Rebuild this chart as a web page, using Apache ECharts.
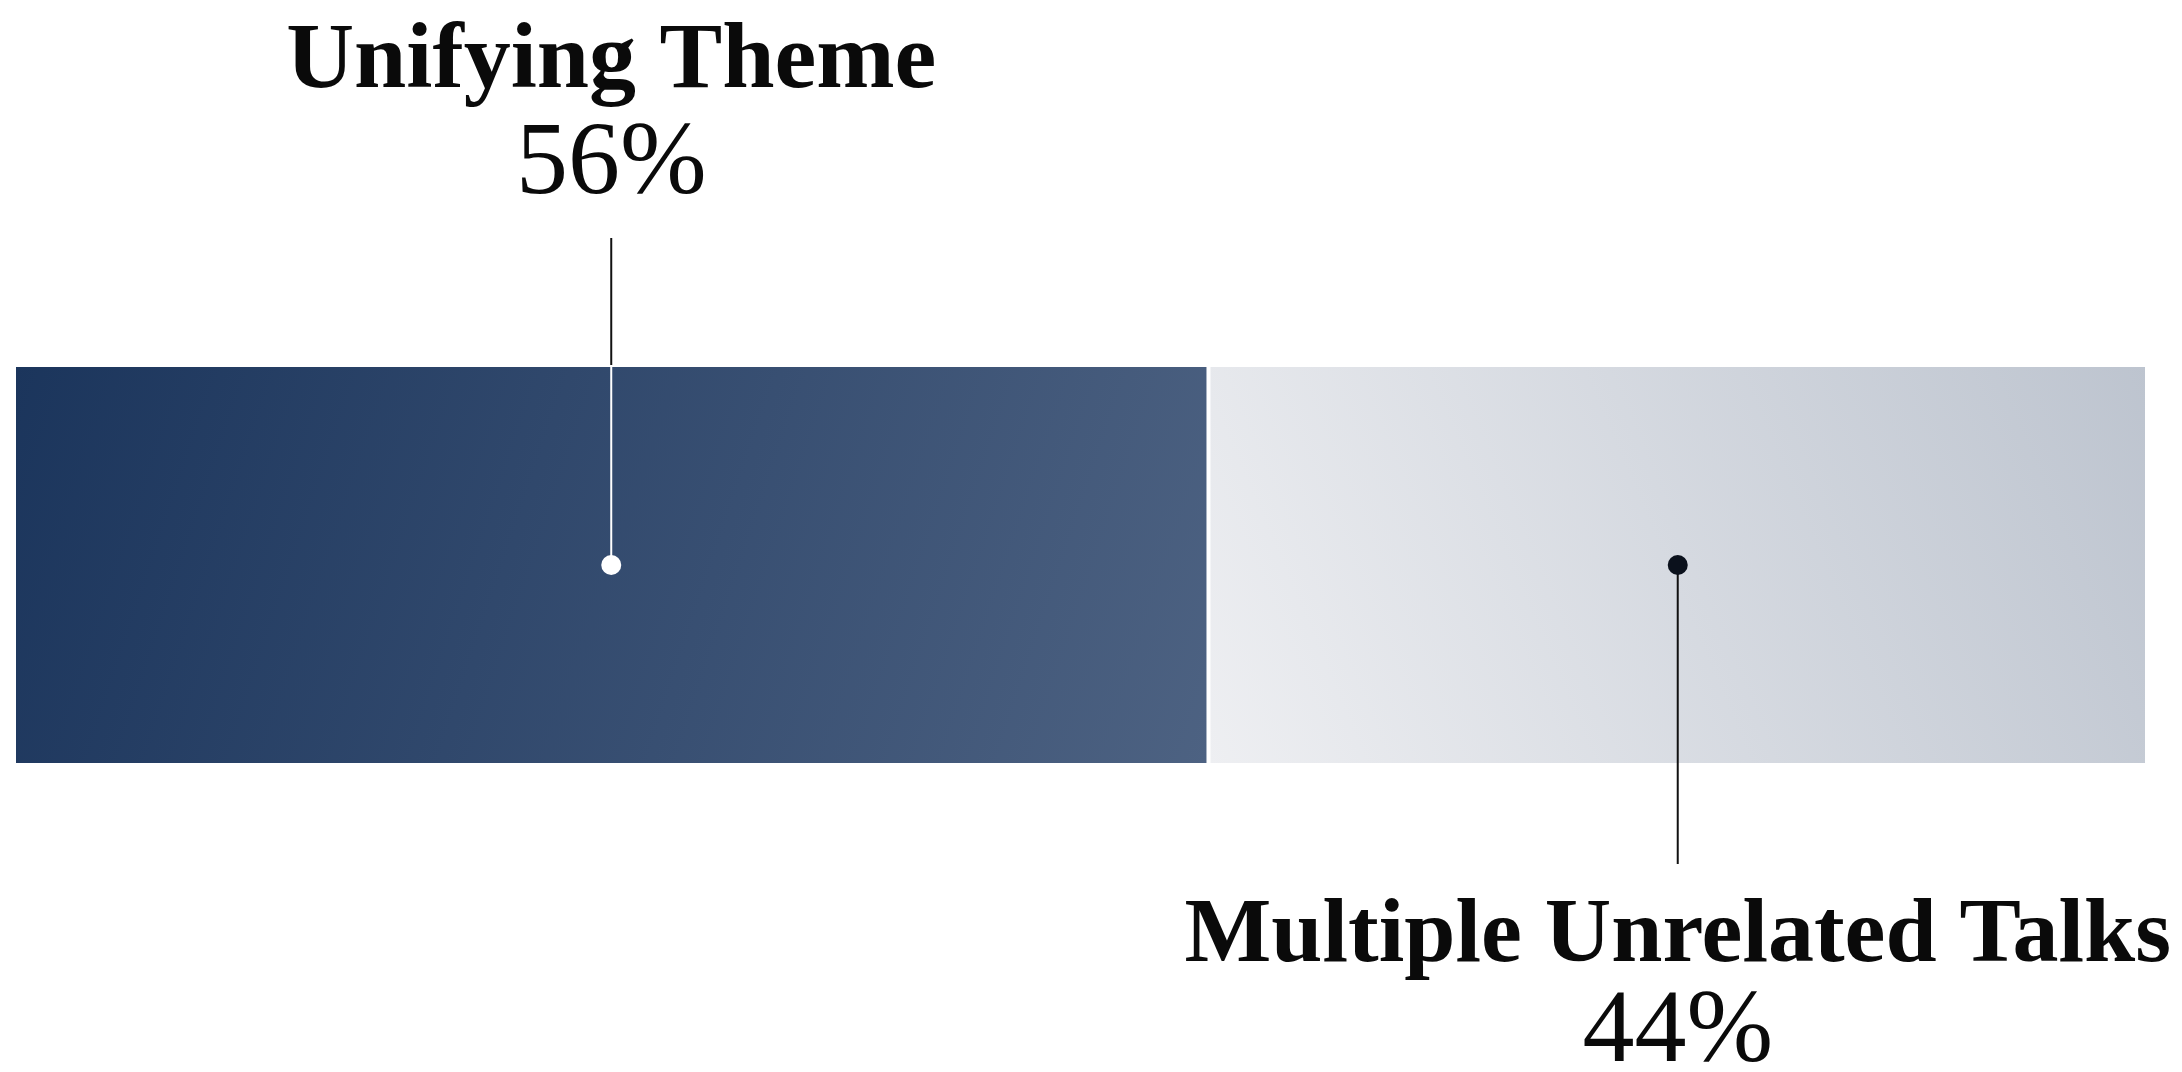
<!DOCTYPE html>
<html>
<head>
<meta charset="utf-8">
<script src="https://cdn.jsdelivr.net/npm/echarts@6/dist/echarts.min.js"></script>
<style>
    html, body { margin: 0; padding: 0; background: #fff; }
    #chart { width: 2182px; height: 1072px; }
</style>
</head>
<body>
<div id="chart"></div>
<script>
    // data
    var categories = ['Talks'];
    var segmentNames = ['Unifying Theme', 'Multiple Unrelated Talks'];
    var segmentValues = [56, 44];
    var valueLabels = ['56%', '44%'];

    var chart = echarts.init(document.getElementById('chart'));

    var gridTop = 365, gridBottom = 307;
    var fontFamily = '"Liberation Serif", "DejaVu Serif", serif';

    // midpoint of each segment, where the marker dot sits
    var midPoints = [];
    var acc = 0;
    segmentValues.forEach(function (v) {
        midPoints.push(acc + v / 2);
        acc += v;
    });

    var gradients = [
        new echarts.graphic.LinearGradient(0, 0, 1, 1, [
            { offset: 0, color: '#1b355c' },
            { offset: 1, color: '#4d6282' }
        ]),
        new echarts.graphic.LinearGradient(0, 1, 1, 0, [
            { offset: 0, color: '#eeeff2' },
            { offset: 1, color: '#bdc4cf' }
        ])
    ];

    var barSeries = segmentValues.map(function (v, i) {
        return {
            name: segmentNames[i],
            type: 'bar',
            stack: 'total',
            barWidth: '100%',
            silent: true,
            itemStyle: {
                color: gradients[i],
                borderColor: '#ffffff',
                borderWidth: 2
            },
            data: [v]
        };
    });

    var dotColors = ['#ffffff', '#0b111c'];
    var dotSeries = {
        type: 'scatter',
        z: 10,
        symbolSize: 20,
        silent: true,
        data: midPoints.map(function (m, i) {
            return { value: [m, categories[0]], itemStyle: { color: dotColors[i], opacity: 1 } };
        })
    };

    var option = {
        animation: false,
        grid: { left: 14, right: 35, top: gridTop, bottom: gridBottom },
        xAxis: { type: 'value', min: 0, max: 100, show: false },
        yAxis: { type: 'category', data: categories, show: false },
        series: barSeries.concat([dotSeries])
    };

    chart.setOption(option);

    // callout lines and labels placed from the data positions
    var p0 = chart.convertToPixel({ gridIndex: 0 }, [midPoints[0], categories[0]]);
    var p1 = chart.convertToPixel({ gridIndex: 0 }, [midPoints[1], categories[0]]);
    var barTop = gridTop;

    function vline(x, y1, y2, color) {
        return {
            type: 'line', z: 5, silent: true,
            shape: { x1: x, y1: y1, x2: x, y2: y2 },
            style: { stroke: color, lineWidth: 2 }
        };
    }

    function label(x, y, str, weight, size) {
        return {
            type: 'text', z: 5, silent: true,
            x: x, y: y,
            style: {
                text: str,
                fill: '#0a0a0a',
                font: weight + ' ' + size + 'px ' + fontFamily,
                align: 'center',
                verticalAlign: 'middle'
            }
        };
    }

    chart.setOption({
        graphic: [
            vline(p0[0], 238, barTop, '#111111'),
            vline(p0[0], barTop, p0[1], '#ffffff'),
            vline(p1[0], p1[1], 864, '#111111'),
            label(p0[0], 63, segmentNames[0], 'bold', 94),
            label(p0[0], 166, valueLabels[0], 'normal', 104),
            label(p1[0], 937, segmentNames[1], 'bold', 92),
            label(p1[0], 1034, valueLabels[1], 'normal', 104)
        ]
    });
</script>
</body>
</html>
